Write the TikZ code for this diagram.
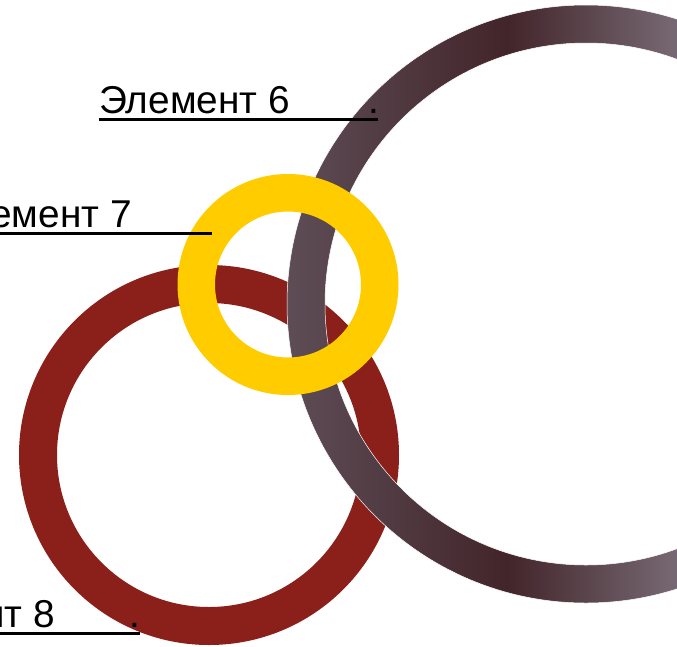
\documentclass[tikz,border=0pt]{standalone}
\usepackage{fontspec}
\setmainfont{Liberation Sans}
\usepackage{xcolor}
\usetikzlibrary{positioning}
\definecolor{ringred}{HTML}{8B201B}
\definecolor{ringyellow}{HTML}{FFCC00}
\definecolor{greyleft}{HTML}{5E4D56}
\definecolor{greydark}{HTML}{42252A}
\definecolor{greymid}{HTML}{776973}
\definecolor{greyright}{HTML}{8A7F88}
\pgfdeclarehorizontalshading{greyring}{100bp}{color(0bp)=(greyleft); color(25bp)=(greyleft); color(43.4bp)=(greydark); color(57.6bp)=(greymid); color(75bp)=(greyright); color(100bp)=(greyright)}

\begin{document}
\begin{tikzpicture}[x=1pt,y=-1pt,
    ring/.style={even odd rule},
    lbl/.style={font=\fontsize{38.8}{44}\selectfont,inner sep=0pt},
    uline/.style={line width=3pt} ]
    \useasboundingbox (0,0) rectangle (677,646);
    \coordinate (R) at (209,455);
    \coordinate (G) at (586,304);
    \coordinate (Y) at (288,284.5);
    \fill [ring,ringred] (R) circle (190pt) circle (152pt);
    \shade [ring,shading=greyring] (G) circle (299pt) circle (261pt);
    \draw [white,line width=0.5pt] (G) circle (299pt) circle (261pt);
    \fill [ring,ringyellow] (Y) circle (110.5pt) circle (73pt);
    \node [lbl,anchor=base west] at (99,113) (l6) {Элемент 6};
    \node [lbl,anchor=base] at (374,113) (d6) {.};
    \coordinate (u6) at (378,119);
    \draw [uline] (l6.west |- u6) to (u6);
    \node [lbl,anchor=base east] at (132,227) (l7) {Элемент 7};
    \coordinate (u7) at (212,233.5);
    \draw [uline] (l7.west |- u7) to (u7);
    \node [lbl,anchor=base east] at (55,627) (l8) {Элемент 8};
    \node [lbl,anchor=base] at (135,627) (d8) {.};
    \coordinate (u8) at (140,633);
    \draw [uline] (l8.west |- u8) to (u8);
\end{tikzpicture}
\end{document}
